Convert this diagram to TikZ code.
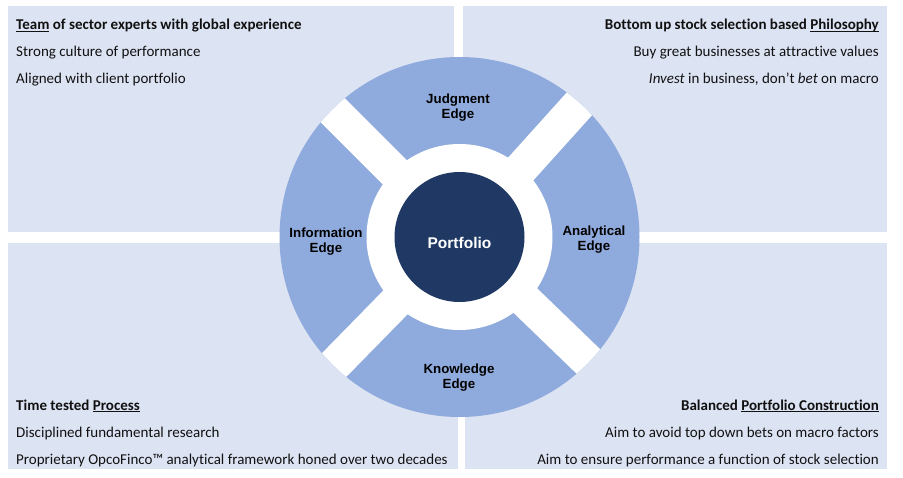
\documentclass[tikz,border=0pt]{standalone}
\usepackage{fontspec}
\setmainfont{Carlito}[Ligatures=CommonOff]
\newfontfamily\arialfont{Liberation Sans}
\definecolor{panelbg}{HTML}{DCE3F3}
\definecolor{ringblue}{HTML}{8FAADC}
\definecolor{darknavy}{HTML}{1F3864}
\definecolor{textcol}{HTML}{111111}
\newsavebox\ulxbox
\newcommand\ulx[1]{\sbox\ulxbox{#1}\rlap{\rule[-2.2pt]{\wd\ulxbox}{0.9pt}}\usebox\ulxbox}
\begin{document}
\begin{tikzpicture}[x=1pt,y=-1pt,
  panel/.style={fill=panelbg, draw=none},
  ptext/.style={inner sep=0pt, font=\fontsize{15}{17}\selectfont, text=textcol},
  lbl/.style={inner sep=0pt, align=center, font=\arialfont\bfseries\fontsize{13.3}{15}\selectfont, text=black}]
\useasboundingbox[fill=white] (0,0) rectangle (903,477);
% panels
\fill[panel] (8,6) rectangle (454,232);
\fill[panel] (463,6) rectangle (887,232);
\fill[panel] (8,243) rectangle (458,469);
\fill[panel] (465,243) rectangle (887,469);
% wheel
\coordinate (c) at (459.5,237);
\fill[ringblue] (c) circle[radius=180pt];
\begin{scope}
  \clip (c) circle[radius=180pt];
  \foreach \a in {48,135,-134.4,-44}
    \draw[white, line width=34pt] (c) -- ++(\a:200pt);
\end{scope}
\fill[white] (c) circle[radius=93pt];
\node[circle, fill=darknavy, minimum size=130pt, inner sep=0pt] (core) at (c) {};
\node[anchor=base, inner sep=0pt, text=white, font=\arialfont\bfseries\fontsize{15.5}{18}\selectfont] (portfolio) at (459.5,248.3) {Portfolio};
\node[lbl] (judg) at (458,107.4) {Judgment\\Edge};
\node[lbl] (info) at (326,241.5) {Information\\Edge};
\node[lbl] (anal) at (594,239.7) {Analytical\\Edge};
\node[lbl] (know) at (459,377.4) {Knowledge\\Edge};
% top-left text
\node[ptext, anchor=base west] (tl1) at (16,29.3) {\bfseries\ulx{Team} of sector experts with global experience};
\node[ptext, anchor=base west] (tl2) at (16,56) {Strong culture of performance};
\node[ptext, anchor=base west] (tl3) at (16,83) {Aligned with client portfolio};
% top-right text
\node[ptext, anchor=base east] (tr1) at (879,29.3) {\bfseries Bottom up stock selection based \ulx{Philosophy}};
\node[ptext, anchor=base east] (tr2) at (879,56) {Buy great businesses at attractive values};
\node[ptext, anchor=base east] (tr3) at (879,83) {\textit{Invest} in business, don’t \textit{bet} on macro};
% bottom-left text
\node[ptext, anchor=base west] (bl1) at (16,410) {\bfseries Time tested \ulx{Process}};
\node[ptext, anchor=base west] (bl2) at (16,437) {Disciplined fundamental research};
\node[ptext, anchor=base west] (bl3) at (16,464) {Proprietary OpcoFinco™ analytical framework honed over two decades};
% bottom-right text
\node[ptext, anchor=base east] (br1) at (879,410) {\bfseries Balanced \ulx{Portfolio Construction}};
\node[ptext, anchor=base east] (br2) at (879,437) {Aim to avoid top down bets on macro factors};
\node[ptext, anchor=base east] (br3) at (879,464) {Aim to ensure performance a function of stock selection};
\end{tikzpicture}
\end{document}
